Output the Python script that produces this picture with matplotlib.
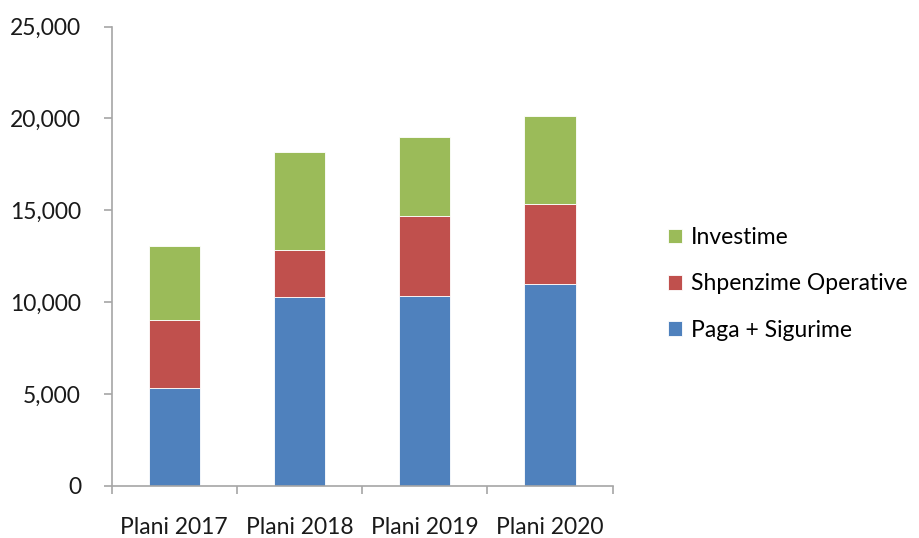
import matplotlib
matplotlib.use("Agg")
import matplotlib.pyplot as plt
import matplotlib.ticker as mticker
import numpy as np

categories = ["Plani 2017", "Plani 2018", "Plani 2019", "Plani 2020"]
paga = [5330, 10270, 10350, 10990]
operative = [3700, 2590, 4320, 4370]
investime = [4040, 5300, 4310, 4750]

BLUE = "#4F81BD"
RED = "#C0504D"
GREEN = "#9BBB59"
AXIS = "#A6A6A6"
FS = 16.5

plt.rcParams["font.family"] = ["Lato", "DejaVu Sans"]

fig = plt.figure(figsize=(9.19, 5.38), dpi=100)
ax = fig.add_axes([0.1215, 0.0967, 0.5452, 0.854])

x = np.arange(len(categories))
w = 0.41
b1 = ax.bar(x, paga, w, color=BLUE, edgecolor="white", linewidth=0.6, label="Paga + Sigurime")
bottom2 = np.array(paga)
b2 = ax.bar(x, operative, w, bottom=bottom2, color=RED, edgecolor="white", linewidth=0.6,
            label="Shpenzime Operative")
bottom3 = bottom2 + np.array(operative)
b3 = ax.bar(x, investime, w, bottom=bottom3, color=GREEN, edgecolor="white", linewidth=0.6,
            label="Investime")

ax.set_xlim(-0.5, len(categories) - 0.5)
ax.set_ylim(0, 25000)
ax.yaxis.set_major_locator(mticker.MultipleLocator(5000))
ax.yaxis.set_major_formatter(mticker.FuncFormatter(lambda v, p: f"{int(v):,}"))

# category labels without tick marks, tick marks at category boundaries
ax.set_xticks(x)
ax.set_xticklabels(categories, fontsize=FS, color="#1a1a1a")
ax.tick_params(axis="x", length=0, pad=22)
ax.set_xticks(np.arange(-0.5, len(categories)), minor=True)
ax.tick_params(axis="x", which="minor", length=6, color=AXIS, width=1.2)
ax.tick_params(axis="y", length=6, color=AXIS, width=1.2, labelsize=FS,
               labelcolor="#1a1a1a", pad=16)

for side in ["top", "right"]:
    ax.spines[side].set_visible(False)
for side in ["left", "bottom"]:
    ax.spines[side].set_color(AXIS)
    ax.spines[side].set_linewidth(1.2)

handles = [b3, b2, b1]
ax.legend(handles=handles, labels=[h.get_label() for h in handles],
          loc="center left", bbox_to_anchor=(1.07, 0.44), frameon=False,
          fontsize=FS, handlelength=0.6, handleheight=0.6, handletextpad=0.4,
          labelspacing=1.1)

fig.savefig("out.png", dpi=100)
